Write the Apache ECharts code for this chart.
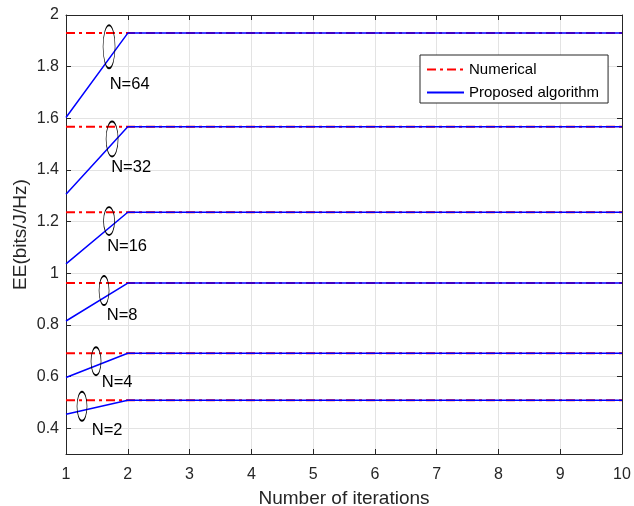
<!DOCTYPE html>
<html>
<head>
<meta charset="utf-8">
<script src="https://cdn.jsdelivr.net/npm/echarts@6/dist/echarts.min.js"></script>
<style>html,body{margin:0;padding:0;background:#fff}#c{width:634px;height:506px}</style>
</head>
<body>
<div id="c"></div>
<script>
const iterations = [1, 2, 3, 4, 5, 6, 7, 8, 9, 10];
const xTicks = [1, 2, 3, 4, 5, 6, 7, 8, 9, 10];
const yTicks = [0.4, 0.6, 0.8, 1.0, 1.2, 1.4, 1.6, 1.8, 2.0];
const groups = ['N=64', 'N=32', 'N=16', 'N=8', 'N=4', 'N=2'];
const numerical64 = [1.930, 1.930, 1.930, 1.930, 1.930, 1.930, 1.930, 1.930, 1.930, 1.930];
const numerical32 = [1.567, 1.567, 1.567, 1.567, 1.567, 1.567, 1.567, 1.567, 1.567, 1.567];
const numerical16 = [1.236, 1.236, 1.236, 1.236, 1.236, 1.236, 1.236, 1.236, 1.236, 1.236];
const numerical8  = [0.962, 0.962, 0.962, 0.962, 0.962, 0.962, 0.962, 0.962, 0.962, 0.962];
const numerical4  = [0.690, 0.690, 0.690, 0.690, 0.690, 0.690, 0.690, 0.690, 0.690, 0.690];
const numerical2  = [0.508, 0.508, 0.508, 0.508, 0.508, 0.508, 0.508, 0.508, 0.508, 0.508];
const proposed64 = [1.603, 1.930, 1.930, 1.930, 1.930, 1.930, 1.930, 1.930, 1.930, 1.930];
const proposed32 = [1.306, 1.567, 1.567, 1.567, 1.567, 1.567, 1.567, 1.567, 1.567, 1.567];
const proposed16 = [1.036, 1.236, 1.236, 1.236, 1.236, 1.236, 1.236, 1.236, 1.236, 1.236];
const proposed8  = [0.815, 0.962, 0.962, 0.962, 0.962, 0.962, 0.962, 0.962, 0.962, 0.962];
const proposed4  = [0.596, 0.690, 0.690, 0.690, 0.690, 0.690, 0.690, 0.690, 0.690, 0.690];
const proposed2  = [0.454, 0.508, 0.508, 0.508, 0.508, 0.508, 0.508, 0.508, 0.508, 0.508];
// annotation anchors (data coordinates)
const ellipseX = [1.697, 1.746, 1.697, 1.616, 1.486, 1.259];
const ellipseY = [1.877, 1.520, 1.202, 0.933, 0.659, 0.485];
const labelX = [2.03, 2.054, 1.989, 1.908, 1.827, 1.665];
const labelY = [1.730, 1.410, 1.102, 0.836, 0.578, 0.392];
</script>
<script>
const FONT = '"Liberation Sans", Arial, Helvetica, sans-serif';
const AX = '#262626';
const numerical = [numerical64, numerical32, numerical16, numerical8, numerical4, numerical2];
const proposed = [proposed64, proposed32, proposed16, proposed8, proposed4, proposed2];
const ellipseSize = [[12, 43], [12, 35], [11, 28], [10, 29], [10, 28], [10, 29]];

const series = [];
numerical.forEach((arr, i) => {
  series.push({
    name: 'Numerical', type: 'line', symbol: 'none', showSymbol: false, z: 2,
    data: iterations.map((x, k) => [x, arr[k]]),
    lineStyle: { color: '#ff0000', width: 2, type: [9, 4, 3, 4] },
    itemStyle: { color: '#ff0000' }, silent: true
  });
});
proposed.forEach((arr, i) => {
  series.push({
    name: 'Proposed algorithm', type: 'line', symbol: 'none', showSymbol: false, z: 3,
    data: iterations.map((x, k) => [x, arr[k]]),
    lineStyle: { color: '#0000ff', width: 1.5 },
    itemStyle: { color: '#0000ff' }, silent: true
  });
});
series.push({
  type: 'scatter', z: 4, silent: true,
  data: ellipseX.map((x, i) => [x, ellipseY[i], i]),
  symbol: 'circle',
  symbolSize: (v) => ellipseSize[v[2]],
  itemStyle: { color: 'rgba(0,0,0,0)', borderColor: '#000', borderWidth: 1.1, opacity: 1 }
});
series.push({
  type: 'scatter', z: 5, silent: true,
  data: labelX.map((x, i) => ({ value: [x, labelY[i]], name: groups[i] })),
  symbolSize: 1,
  itemStyle: { color: 'rgba(0,0,0,0)', opacity: 1 },
  label: { show: true, position: 'inside', formatter: (p) => p.name, color: '#000', fontSize: 16.5, fontFamily: FONT }
});

const chart = echarts.init(document.getElementById('c'), null, { renderer: 'canvas' });
chart.setOption({
  animation: false,
  backgroundColor: '#fff',
  grid: { left: 66, right: 12, top: 15, bottom: 52, containLabel: false, outerBoundsMode: 'none' },
  legend: {
    orient: 'vertical', left: 420, top: 55,
    data: ['Numerical', 'Proposed algorithm'],
    itemWidth: 37, itemHeight: 14, itemGap: 8,
    padding: [7, 9, 3, 6],
    borderColor: AX, borderWidth: 1, backgroundColor: '#fff',
    itemStyle: { opacity: 0, color: 'rgba(0,0,0,0)', borderWidth: 0 },
    textStyle: { fontSize: 15, color: '#000', fontFamily: FONT },
    z: 10
  },
  xAxis: [{
    type: 'value', min: 1, max: 10, interval: 1,
    name: 'Number of iterations', nameLocation: 'middle', nameGap: 35,
    nameTextStyle: { fontSize: 19, color: AX, fontFamily: FONT },
    axisLine: { lineStyle: { color: AX } },
    axisTick: { inside: true, length: 5, lineStyle: { color: AX } },
    axisLabel: { fontSize: 16, color: AX, fontFamily: FONT, margin: 13 },
    splitLine: { show: true, lineStyle: { color: '#e3e3e3' } }
  }, {
    type: 'value', min: 1, max: 10, interval: 1, position: 'top',
    axisLine: { lineStyle: { color: AX } },
    axisTick: { inside: true, length: 5, lineStyle: { color: AX } },
    axisLabel: { show: false }, splitLine: { show: false }
  }],
  yAxis: [{
    type: 'value', min: 0.3, max: 2,
    name: 'EE(bits/J/Hz)', nameLocation: 'middle', nameGap: 36, nameMoveOverlap: false,
    nameTextStyle: { fontSize: 19, color: AX, fontFamily: FONT },
    axisLine: { show: true, lineStyle: { color: AX } },
    axisTick: { show: true, inside: true, length: 5, lineStyle: { color: AX }, customValues: yTicks },
    axisLabel: { fontSize: 16, color: AX, fontFamily: FONT, margin: 7, customValues: yTicks,
      formatter: (v) => String(Math.round(v * 10) / 10) },
    splitLine: { show: true, lineStyle: { color: '#e3e3e3' } }
  }, {
    type: 'value', min: 0.3, max: 2, position: 'right',
    axisLine: { show: true, lineStyle: { color: AX } },
    axisTick: { show: true, inside: true, length: 5, lineStyle: { color: AX }, customValues: yTicks },
    axisLabel: { show: false, customValues: yTicks }, splitLine: { show: false }
  }],
  series: series
});
</script>
</body>
</html>
